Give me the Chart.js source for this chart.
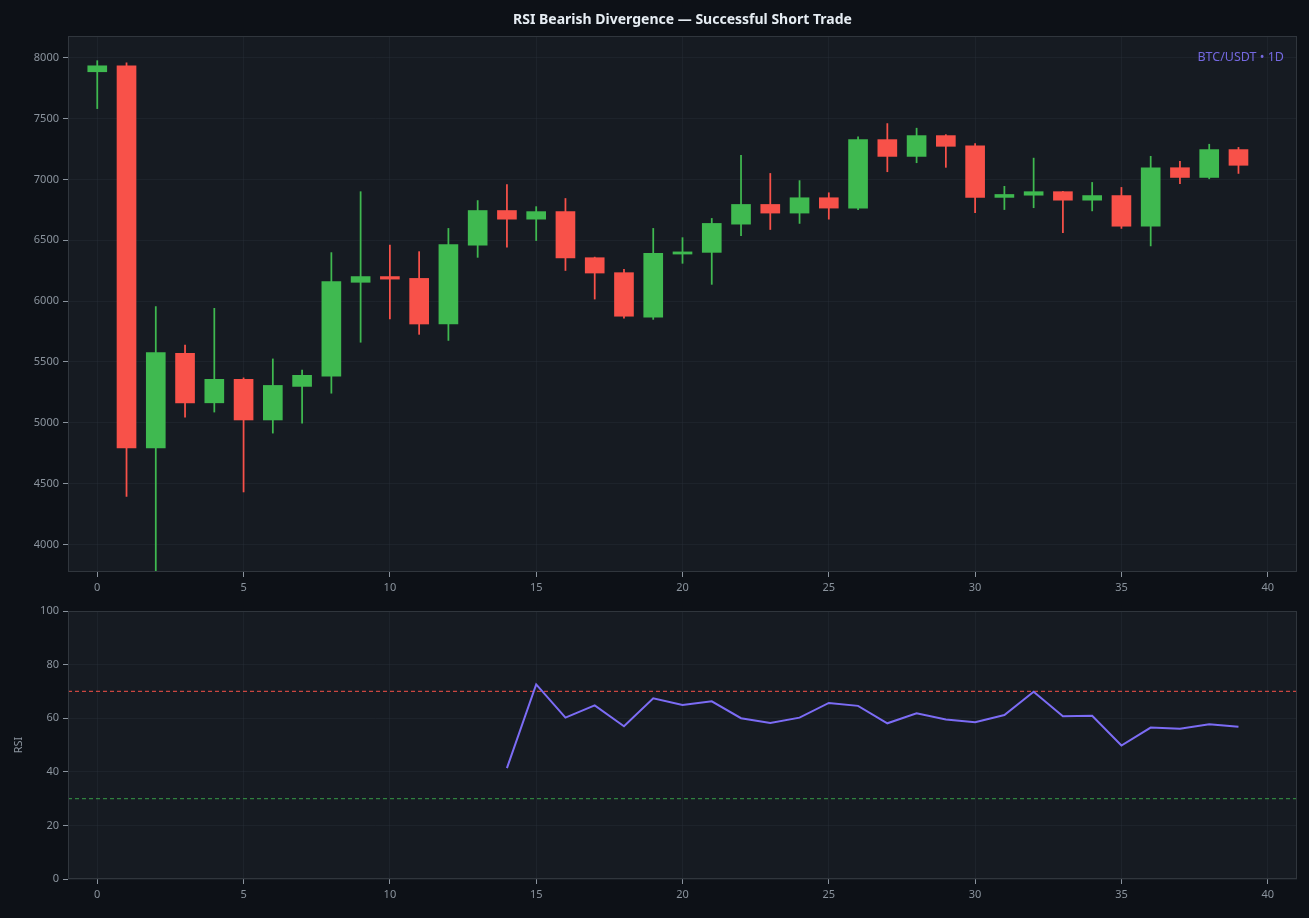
<!DOCTYPE html>
<html>
<head>
<meta charset="utf-8">
<title>RSI Bearish Divergence</title>
<script src="https://cdn.jsdelivr.net/npm/chart.js@4.4.1/dist/chart.umd.min.js"></script>
<style>
  html, body { margin: 0; padding: 0; background: #0d1117; }
  body { width: 1309px; height: 918px; position: relative; overflow: hidden; font-family: "Noto Sans", sans-serif; }
  #title { position: absolute; left: 68px; width: 1229px; top: 9px; text-align: center; color: #e6edf3; font-weight: bold; font-size: 14px; }
  #tag { position: absolute; right: 25px; top: 48px; color: #7468e0; font-size: 12.5px; }
  #priceWrap { position: absolute; left: 0; top: 0; width: 1309px; height: 600px; }
  #rsiWrap { position: absolute; left: 0; top: 595px; width: 1309px; height: 323px; }
  canvas { display: block; }
</style>
</head>
<body>
<div id="priceWrap"><canvas id="priceChart" width="1309" height="600"></canvas></div>
<div id="rsiWrap"><canvas id="rsiChart" width="1309" height="323"></canvas></div>
<div id="title">RSI Bearish Divergence — Successful Short Trade</div>
<div id="tag">BTC/USDT • 1D</div>
<script>
// 蜡烛数据 (按天)
const opens  = [7886, 7935, 4794, 5571, 5164, 5357, 5023, 5299, 5384, 6155,
                6202, 6187, 5812, 6460, 6745, 6674, 6736, 6357, 6234, 5868,
                6387, 6401, 6633, 6795, 6724, 6850, 6765, 7328, 7190, 7361,
                7278, 6853, 6871, 6900, 6830, 6868, 6616, 7097, 7017, 7246];
const highs  = [7977, 7959, 5956, 5639, 5941, 5369, 5525, 5434, 6399, 6900,
                6460, 6407, 6598, 6827, 6959, 6777, 6844, 6362, 6261, 6598,
                6522, 6680, 7199, 7050, 6991, 6891, 7352, 7460, 7422, 7369,
                7296, 6944, 7176, 6903, 6976, 6935, 7191, 7149, 7290, 7264];
const lows   = [7583, 4395, 3773, 5046, 5088, 4431, 4915, 4997, 5243, 5662,
                5853, 5727, 5677, 6360, 6443, 6498, 6252, 6017, 5859, 5850,
                6311, 6138, 6539, 6589, 6639, 6674, 6753, 7064, 7138, 7100,
                6727, 6753, 6768, 6563, 6742, 6598, 6454, 6965, 7006, 7050];
const closes = [7935, 4794, 5577, 5164, 5357, 5023, 5307, 5390, 6161, 6202,
                6181, 5812, 6466, 6745, 6674, 6736, 6355, 6231, 5876, 6393,
                6405, 6639, 6795, 6724, 6850, 6765, 7328, 7190, 7361, 7273,
                6853, 6877, 6900, 6830, 6868, 6616, 7097, 7017, 7246, 7117];

// RSI(14), 前14天无值
const rsiValues = [null, null, null, null, null, null, null, null, null, null,
                   null, null, null, null, 41.4, 72.6, 60.2, 64.8, 57.0, 67.4,
                   64.9, 66.3, 60.0, 58.2, 60.2, 65.7, 64.6, 58.1, 61.8, 59.5,
                   58.5, 61.2, 69.9, 60.7, 60.9, 49.8, 56.5, 56.1, 57.7, 56.8];
const overbought = 70;
const oversold = 30;

// 坐标轴范围和刻度
const xRange = [-1, 41];
const xTicks = [0, 5, 10, 15, 20, 25, 30, 35, 40];
const priceRange = [3773, 8180];
const priceTicks = [4000, 4500, 5000, 5500, 6000, 6500, 7000, 7500, 8000];
const rsiRange = [0, 100];
const rsiTicks = [0, 20, 40, 60, 80, 100];

const UP = '#3fb950';
const DOWN = '#f85149';
const TICK = '#8b949e';
const GRID = 'rgba(48, 54, 61, 0.32)';
const FONT = { family: 'Noto Sans', size: 11 };

// 绘图区背景和边框
const panelPlugin = {
    id: 'panel',
    beforeDraw(chart) {
        const { ctx, chartArea: a } = chart;
        ctx.save();
        ctx.fillStyle = '#161b22';
        ctx.fillRect(a.left, a.top, a.right - a.left, a.bottom - a.top);
        ctx.restore();
    },
    afterDraw(chart) {
        const { ctx, chartArea: a } = chart;
        ctx.save();
        ctx.strokeStyle = '#30363d';
        ctx.lineWidth = 1;
        ctx.strokeRect(a.left + 0.5, a.top + 0.5, a.right - a.left - 1, a.bottom - a.top - 1);
        ctx.restore();
    }
};

function fixedTicks(list) {
    return scale => { scale.ticks = list.map(v => ({ value: v })); };
}

function xAxis(height) {
    return {
        type: 'linear',
        min: xRange[0],
        max: xRange[1],
        offset: false,
        afterFit: s => { s.height = height; },
        afterBuildTicks: fixedTicks(xTicks),
        grid: { color: GRID, offset: false, drawTicks: true, tickLength: 5, tickColor: TICK, tickWidth: 1 },
        border: { display: false },
        ticks: { color: TICK, font: FONT, padding: 4, maxRotation: 0, autoSkip: false }
    };
}

function yAxis(range, list, title) {
    return {
        type: 'linear',
        min: range[0],
        max: range[1],
        afterFit: s => { s.width = 68; },
        afterBuildTicks: fixedTicks(list),
        grid: { color: GRID, drawTicks: true, tickLength: 5, tickColor: TICK, tickWidth: 1 },
        border: { display: false },
        ticks: { color: TICK, font: FONT, padding: 4, autoSkip: false, callback: v => String(v) },
        title: title ? { display: true, text: title, color: TICK, font: FONT, padding: { top: 12, bottom: 0 } } : { display: false }
    };
}

const days = opens.map((_, i) => i);
const candleColors = days.map(i => closes[i] >= opens[i] ? UP : DOWN);

new Chart(document.getElementById('priceChart'), {
    type: 'bar',
    data: {
        datasets: [
            {
                label: 'body',
                data: days.map(i => ({ x: i, y: [opens[i], closes[i]] })),
                backgroundColor: candleColors,
                borderWidth: 0,
                barThickness: 19,
                grouped: false
            },
            {
                label: 'wick',
                data: days.map(i => ({ x: i, y: [lows[i], highs[i]] })),
                backgroundColor: candleColors,
                borderWidth: 0,
                barThickness: 1.1,
                grouped: false
            }
        ]
    },
    options: {
        responsive: false,
        animation: false,
        devicePixelRatio: 1,
        layout: { padding: { top: 36, right: 12, bottom: 5, left: 0 } },
        plugins: { legend: { display: false }, tooltip: { enabled: false } },
        scales: {
            x: xAxis(23),
            y: yAxis(priceRange, priceTicks, null)
        }
    },
    plugins: [panelPlugin]
});

new Chart(document.getElementById('rsiChart'), {
    type: 'line',
    data: {
        datasets: [
            {
                label: 'RSI',
                data: days.map(i => ({ x: i, y: rsiValues[i] })),
                borderColor: '#7c6cf5',
                borderWidth: 2,
                pointRadius: 0,
                spanGaps: false
            },
            {
                label: 'overbought',
                data: xRange.map(x => ({ x: x, y: overbought })),
                borderColor: 'rgba(248, 81, 73, 0.8)',
                borderWidth: 1.2,
                borderDash: [4, 3],
                pointRadius: 0
            },
            {
                label: 'oversold',
                data: xRange.map(x => ({ x: x, y: oversold })),
                borderColor: 'rgba(63, 185, 80, 0.65)',
                borderWidth: 1.2,
                borderDash: [4, 3],
                pointRadius: 0
            }
        ]
    },
    options: {
        responsive: false,
        animation: false,
        devicePixelRatio: 1,
        layout: { padding: { top: 16, right: 12, bottom: 16, left: 0 } },
        plugins: { legend: { display: false }, tooltip: { enabled: false } },
        scales: {
            x: xAxis(23),
            y: yAxis(rsiRange, rsiTicks, 'RSI')
        }
    },
    plugins: [panelPlugin]
});
</script>
</body>
</html>
